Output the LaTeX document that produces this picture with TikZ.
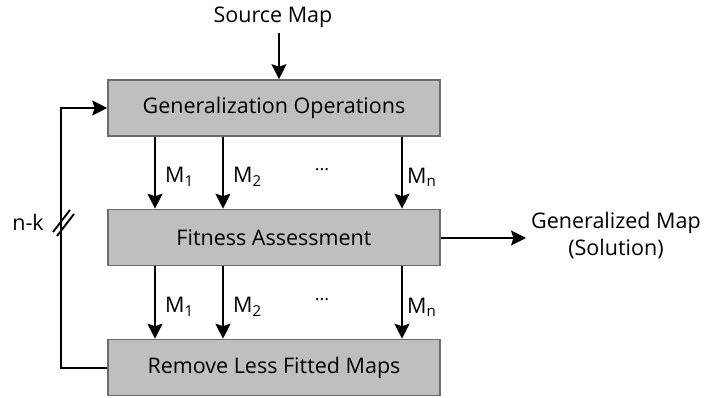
\documentclass[tikz,border=0pt]{standalone}
\usepackage{fontspec}
\setmainfont{Open Sans}
\usetikzlibrary{arrows.meta}
\begin{document}
\begin{tikzpicture}[x=1pt,y=-1pt,
  box/.style={draw=gray!85!black,line width=1.6pt,fill=gray!50!white,minimum width=332pt,minimum height=56pt,font=\fontsize{21.5}{26}\selectfont,inner sep=0pt},
  lbl/.style={font=\fontsize{21.5}{27}\selectfont,inner sep=0pt},
  arr/.style={line width=1.9pt,-{Stealth[length=15pt,width=15pt,inset=2.5pt]}},
  ln/.style={line width=1.9pt}]
\useasboundingbox (0,0) rectangle (712,398);
\node[box] (go) at (274,108) {Generalization Operations};
\node[box] (fa) at (274,237.5) {Fitness Assessment};
\node[box] (rm) at (274,367.5) {Remove Less Fitted Maps};
\node[lbl] (src) at (273,17) {Source Map};
\draw[arr] (279,33) -- (go.north -| 279,0);
\foreach \x/\n in {155/1,223/2}{
  \draw[arr] (go.south -| \x,0) -- (fa.north -| \x,0);
  \draw[arr] (fa.south -| \x,0) -- (rm.north -| \x,0);
  \node[lbl,anchor=west] at (\x+10,177) {M\textsubscript{\n}};
  \node[lbl,anchor=west] at (\x+10,307) {M\textsubscript{\n}};
}
\draw[arr] (go.south -| 402,0) -- (fa.north -| 402,0);
\draw[arr] (fa.south -| 402,0) -- (rm.north -| 402,0);
\node[lbl,anchor=west] at (407,177) {M\textsubscript{n}};
\node[lbl,anchor=west] at (407,307) {M\textsubscript{n}};
\node[lbl,font=\fontsize{18}{20}\selectfont] at (322,170) {...};
\node[lbl,font=\fontsize{18}{20}\selectfont] at (322,300) {...};
\coordinate (out) at (526,238);
\draw[arr] (fa.east |- out) -- (out);
\node[lbl,align=center] (gm) at (616,236) {Generalized Map\\(Solution)};
\coordinate (lb) at (61,368);
\coordinate (lt) at (61,108);
\draw[arr] (rm.west |- lb) -- (lb) -- (lt) -- (go.west);
\draw[ln] (53,232) -- (70,210);
\draw[ln] (57,236) -- (74,214);
\node[lbl] at (28,222) {n-k};
\end{tikzpicture}
\end{document}
